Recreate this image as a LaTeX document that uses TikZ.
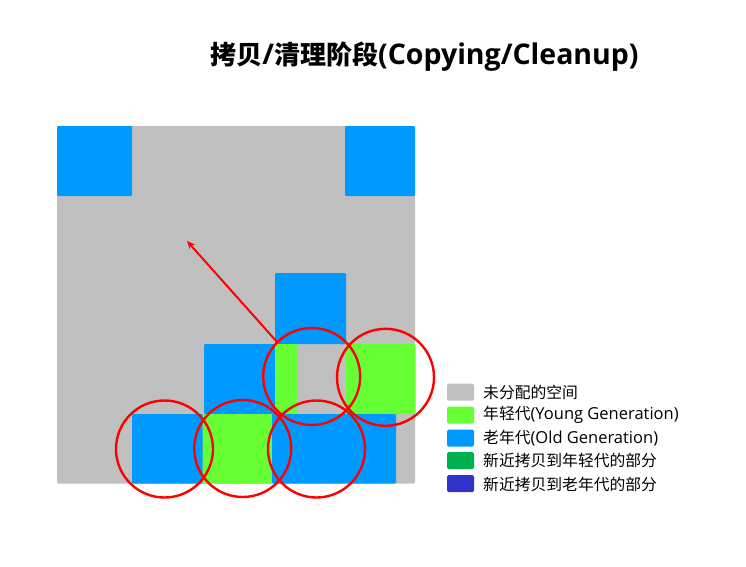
\documentclass[tikz,border=0pt]{standalone}
\usepackage{fontspec}
\setmainfont{Open Sans}
\newfontfamily\cjk{Noto Sans CJK SC}
\usetikzlibrary{arrows.meta}
\definecolor{cgray}{RGB}{192,192,192}
\definecolor{cgreen}{RGB}{102,255,51}
\definecolor{cblue}{RGB}{0,153,255}
\definecolor{cdgreen}{RGB}{0,176,80}
\definecolor{cpurple}{RGB}{51,51,204}
\newcommand{\tcj}[1]{{\cjk\fontsize{26}{30}\selectfont #1}}
\newcommand{\lcj}[1]{{\cjk\fontsize{15.8}{18}\selectfont #1}}
\tikzset{
  blk/.style={rounded corners=1.2pt},
  ring/.style={draw=red, line width=2.4pt},
  swatch/.style={rounded corners=1.5pt},
  legtext/.style={anchor=west, inner sep=0pt, font=\fontsize{16.5}{18}\selectfont},
}
\begin{document}
\begin{tikzpicture}[x=1pt,y=-1pt]
\useasboundingbox (0,0) rectangle (746,566);
% title
\node[inner sep=0pt, font=\fontsize{28.5}{30}\selectfont\bfseries] (title) at (424.5,57) {\tcj{拷贝}/\tcj{清理阶段}(Copying/Cleanup)};
% memory area
\fill[cgray, blk] (57,126) rectangle (415,483.5);
\fill[cblue, blk] (57,126) rectangle (132,196);
\fill[cblue, blk] (345,126) rectangle (415,196);
\fill[cblue, blk] (275,273) rectangle (346,344);
\fill[cblue, blk] (204,344) rectangle (275.5,414);
\fill[cgreen, blk] (275,344) rectangle (297.5,414);
\fill[cgreen, blk] (346,344) rectangle (415.5,414);
\fill[cblue, blk] (132,414) rectangle (203,483.5);
\fill[cgreen, blk] (202.5,414) rectangle (272.5,483.5);
\fill[cblue, blk] (272,414) rectangle (396,483.5);
% arrow
\coordinate (afrom) at (277.5,342.5);
\coordinate (ato) at (187,241);
\draw[red, line width=2pt, -{Stealth[length=8pt,width=7pt]}] (afrom) -- (ato);
% circles
\node[ring, circle, minimum size=97pt, inner sep=0pt] (c1) at (164.5,449) {};
\node[ring, circle, minimum size=97pt, inner sep=0pt] (c2) at (242.7,448.5) {};
\node[ring, circle, minimum size=97pt, inner sep=0pt] (c3) at (316.5,449) {};
\node[ring, circle, minimum size=97pt, inner sep=0pt] (c4) at (311.7,376.5) {};
\node[ring, circle, minimum size=97pt, inner sep=0pt] (c5) at (385.5,377.3) {};
% legend
\fill[cgray, swatch] (447,383.5) rectangle (474,400.5);
\fill[cgreen, swatch] (447,406.5) rectangle (474,423.5);
\fill[cblue, swatch] (447,429.5) rectangle (474,446.5);
\fill[cdgreen, swatch] (447,452) rectangle (474,469);
\fill[cpurple, swatch] (447,475) rectangle (474,492);
\node[legtext] (l1) at (483,392.5) {\lcj{未分配的空间}};
\node[legtext] (l2) at (483,415) {\lcj{年轻代}(Young Generation)};
\node[legtext] (l3) at (483,438) {\lcj{老年代}(Old Generation)};
\node[legtext] (l4) at (483,460.5) {\lcj{新近拷贝到年轻代的部分}};
\node[legtext] (l5) at (483,484) {\lcj{新近拷贝到老年代的部分}};
\end{tikzpicture}
\end{document}
